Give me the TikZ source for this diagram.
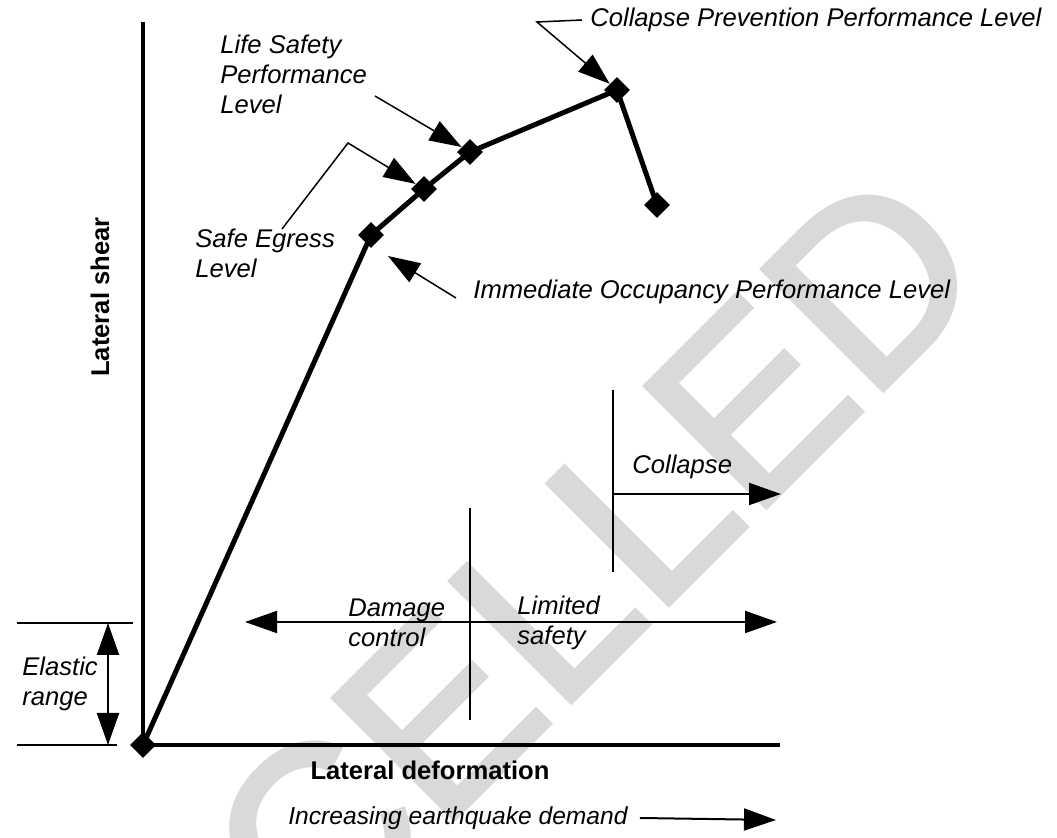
\documentclass[tikz,border=0pt]{standalone}
\usepackage{fontspec}
\setmainfont{Liberation Sans}
\newfontfamily\stampfont[FakeBold=2]{Liberation Sans}
\usetikzlibrary{arrows.meta,shapes.geometric}
\definecolor{StampClr}{rgb}{0.85,0.85,0.85}
\tikzset{
  lvl/.style={diamond,fill=black,inner sep=0pt,minimum width=13pt,minimum height=13pt},
  lbl/.style={font=\fontsize{12.8}{15}\selectfont\itshape,inner sep=0pt,align=left},
  axlbl/.style={font=\fontsize{12.8}{15}\selectfont\bfseries,inner sep=0pt},
  tip/.tip={Triangle[length=16pt,width=11pt]},
  lead/.style={line width=0.75pt,-tip},
  thinline/.style={line width=1pt},
  stamp/.style={font=\fontsize{124}{124}\stampfont,text=StampClr,inner sep=0pt}
}
\begin{document}
\begin{tikzpicture}[x=0.5pt,y=-0.5pt]
\useasboundingbox (0,0) rectangle (1057,838);
\begin{scope}
\clip (0,0) rectangle (1057,838);
\node[stamp,rotate=45,anchor=base east] (stampword) at (996,277) {CANCELLED};
\end{scope}

\coordinate (O) at (143,745);
\coordinate (ytop) at (143,22);
\coordinate (xend) at (780,745);
\draw[line width=2pt] (ytop) -- (O) -- (xend);

\coordinate (IO) at (371,235);
\coordinate (SE) at (424,189);
\coordinate (LS) at (470,152);
\coordinate (CP) at (617,90);
\coordinate (CE) at (657,205);
\draw[line width=2.5pt,line join=round] (O) -- (IO) -- (SE) -- (LS) -- (CP) -- (CE);
\foreach \p in {O,IO,SE,LS,CP,CE}
  \node[lvl] (d\p) at (\p) {};

\node[axlbl,rotate=90] (shear) at (100,297) {Lateral shear};
\node[axlbl] (deform) at (430,770) {Lateral deformation};

\node[lbl,anchor=west] (cpl) at (590,20) {Collapse Prevention Performance Level};
\coordinate (cpk) at (537,22);
\draw[lead] ([xshift=-4pt]cpl.west) -- (cpk) -- (dCP);

\node[lbl,anchor=west] (lsl) at (220,74) {Life Safety\\Performance\\Level};
\coordinate (lsk) at (375,96);
\draw[lead] (lsk) -- (dLS);

\node[lbl,anchor=west] (sel) at (195,253) {Safe Egress\\Level};
\coordinate (sek) at (282,229);
\coordinate (sem) at (348,143);
\draw[lead] (sek) -- (sem) -- (dSE);

\node[lbl,anchor=west] (iol) at (473,292) {Immediate Occupancy Performance Level};
\coordinate (iok) at (456,298);
\coordinate (iot) at (388,256);
\draw[lead] (iok) -- (iot);

\coordinate (ert) at (17,623);
\coordinate (erte) at (133,623);
\coordinate (erb) at (17,745);
\coordinate (erbe) at (117,745);
\draw[thinline] (ert) -- (erte);
\draw[thinline] (erb) -- (erbe);
\coordinate (era) at (108,623);
\coordinate (erz) at (108,745);
\draw[thinline,tip-tip] (era) -- (erz);
\node[lbl,anchor=west] (elastic) at (22,684) {Elastic\\range};

\coordinate (dcl) at (245,622);
\coordinate (dcr) at (777,622);
\draw[thinline,tip-tip] (dcl) -- (dcr);
\coordinate (dct) at (470,508);
\coordinate (dcb) at (470,720);
\draw[thinline] (dct) -- (dcb);
\node[lbl,anchor=west] (damage) at (348,623) {Damage\\control};
\node[lbl,anchor=west] (limited) at (517,623) {Limited\\safety};

\coordinate (clt) at (613,390);
\coordinate (clb) at (613,572);
\draw[thinline] (clt) -- (clb);
\coordinate (cls) at (613,494);
\coordinate (cle) at (781,494);
\draw[thinline,-tip] (cls) -- (cle);
\node[lbl,anchor=west] (collapse) at (632,467) {Collapse};

\node[lbl,anchor=west,font=\fontsize{12.3}{15}\selectfont\itshape] (demand) at (288,818) {Increasing earthquake demand};
\coordinate (dme) at (776,820);
\draw[thinline,-tip] ([xshift=6pt]demand.east) -- (dme);

\end{tikzpicture}
\end{document}
